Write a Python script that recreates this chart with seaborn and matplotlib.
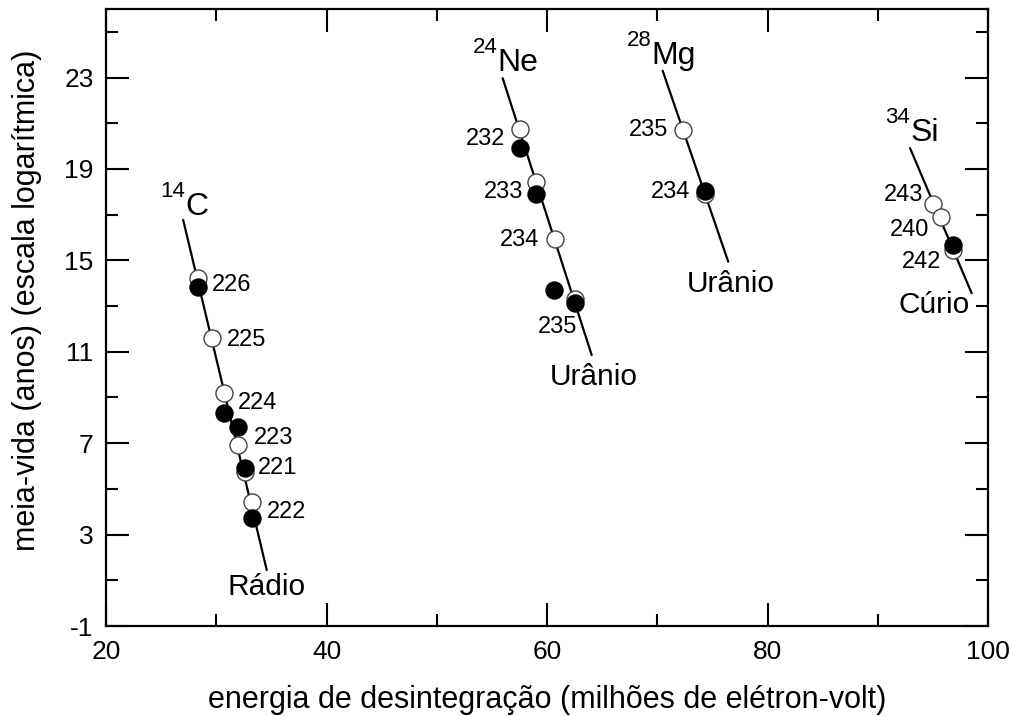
import matplotlib
matplotlib.use("Agg")
import matplotlib.pyplot as plt
import seaborn as sns
import pandas as pd
import numpy as np

# ---------------- data ----------------
# group, energy (MeV), log half-life, kind (open / filled), label
c_energy = [28.37, 28.37, 29.59, 30.73, 30.70, 31.95, 31.95, 32.60, 32.60, 33.20, 33.20]
c_life   = [14.22, 13.82, 11.59, 9.21, 8.31, 7.70, 6.92, 5.75, 5.90, 4.44, 3.71]
c_kind   = ["open", "filled", "open", "open", "filled", "filled", "open", "open", "filled", "open", "filled"]
c_label  = ["", "226", "225", "224", "", "", "223", "", "221", "222", ""]

ne_energy = [57.55, 57.55, 59.00, 59.00, 60.73, 60.66, 62.57, 62.57]
ne_life   = [20.74, 19.91, 18.44, 17.91, 15.92, 13.70, 13.30, 13.15]
ne_kind   = ["open", "filled", "open", "filled", "open", "filled", "open", "filled"]
ne_label  = ["232", "", "233", "", "234", "", "", "235"]

mg_energy = [72.36, 74.33, 74.33]
mg_life   = [20.71, 17.90, 18.05]
mg_kind   = ["open", "open", "filled"]
mg_label  = ["235", "", "234"]

si_energy = [94.98, 95.71, 96.86, 96.86]
si_life   = [17.47, 16.91, 15.46, 15.67]
si_kind   = ["open", "open", "open", "filled"]
si_label  = ["243", "240", "", "242"]

# guide lines (start, end) for each decay family
line_c_x,  line_c_y  = [27.00, 34.58], [16.77, 1.45]
line_ne_x, line_ne_y = [55.98, 64.05], [22.97, 10.86]
line_mg_x, line_mg_y = [70.49, 76.44], [23.30, 14.94]
line_si_x, line_si_y = [92.93, 98.52], [19.91, 13.56]

isotopes = [("14", "C"), ("24", "Ne"), ("28", "Mg"), ("34", "Si")]
parents  = ["Rádio", "Urânio", "Urânio", "Cúrio"]

x_ticks = [20, 40, 60, 80, 100]
y_ticks = [-1, 3, 7, 11, 15, 19, 23]

# ---------------- layout (pixel offsets) ----------------
label_offsets = {
    ("C", "226"): (14, 2, "left"), ("C", "225"): (15, -2, "left"),
    ("C", "224"): (14, -10, "left"), ("C", "223"): (16, 7, "left"),
    ("C", "221"): (13, 0, "left"), ("C", "222"): (15, -10, "left"),
    ("Ne", "232"): (-15, -10, "right"), ("Ne", "233"): (-13, -10, "right"),
    ("Ne", "234"): (-16, -1, "right"), ("Ne", "235"): (2, -24, "right"),
    ("Mg", "235"): (-15, 0, "right"), ("Mg", "234"): (-15, -1, "right"),
    ("Si", "243"): (-9, 9, "right"), ("Si", "240"): (-11, -13, "right"),
    ("Si", "242"): (-12, -17, "right"),
}
iso_offsets = [(2, 5), (-5, 7), (-11, 7), (0, 7)]
parent_offsets = [(0, -25), (2, -30), (2, -30), (-38, -20)]

# ---------------- build frames ----------------
groups = [("C", c_energy, c_life, c_kind, c_label),
          ("Ne", ne_energy, ne_life, ne_kind, ne_label),
          ("Mg", mg_energy, mg_life, mg_kind, mg_label),
          ("Si", si_energy, si_life, si_kind, si_label)]
rows = []
for g, xs, ys, ks, ls in groups:
    for x, y, k, l in zip(xs, ys, ks, ls):
        rows.append(dict(group=g, energy=x, life=y, kind=k, label=l))
df = pd.DataFrame(rows)

lines = [("C", line_c_x, line_c_y), ("Ne", line_ne_x, line_ne_y),
         ("Mg", line_mg_x, line_mg_y), ("Si", line_si_x, line_si_y)]
lrows = []
for g, xs, ys in lines:
    for x, y in zip(xs, ys):
        lrows.append(dict(group=g, energy=x, life=y))
ldf = pd.DataFrame(lrows)

# ---------------- plot ----------------
sns.set_style("ticks")
plt.rcParams["font.family"] = ["Liberation Sans", "DejaVu Sans"]
plt.rcParams["text.color"] = "black"
plt.rcParams["axes.labelcolor"] = "black"
plt.rcParams["xtick.color"] = "black"
plt.rcParams["ytick.color"] = "black"
plt.rcParams["axes.unicode_minus"] = False

fig = plt.figure(figsize=(10.11, 7.16), dpi=100)
ax = fig.add_axes([106 / 1011, 1 - 626 / 716, 882 / 1011, 617 / 716])

sns.lineplot(data=ldf, x="energy", y="life", units="group", estimator=None,
             sort=False, color="black", lw=1.6, ax=ax, zorder=1)

# draw points in data order so overlaps stack like the original
for i, r in df.iterrows():
    if r["kind"] == "open":
        sns.scatterplot(x=[r["energy"]], y=[r["life"]], s=150, color="white",
                        edgecolor="#444444", linewidth=1.0, ax=ax, zorder=2 + i * 0.01)
    else:
        sns.scatterplot(x=[r["energy"]], y=[r["life"]], s=150, color="black",
                        edgecolor="black", linewidth=1.0, ax=ax, zorder=2 + i * 0.01)

for _, r in df.iterrows():
    if r["label"]:
        dx, dy, ha = label_offsets[(r["group"], r["label"])]
        ax.annotate(r["label"], (r["energy"], r["life"]), xytext=(dx, dy),
                    textcoords="offset pixels", ha=ha, va="center",
                    fontsize=17, color="black", zorder=5)

for (g, xs, ys), (sup, main), (dx, dy), parent, (px, py) in zip(
        lines, isotopes, iso_offsets, parents, parent_offsets):
    ax.annotate(main, (xs[0], ys[0]), xytext=(dx, dy), textcoords="offset pixels",
                ha="left", va="baseline", fontsize=23, color="black", zorder=5)
    ax.annotate(sup, (xs[0], ys[0]), xytext=(dx, dy + 18), textcoords="offset pixels",
                ha="right", va="baseline", fontsize=16, color="black", zorder=5)
    ax.annotate(parent, (xs[1], ys[1]), xytext=(px, py), textcoords="offset pixels",
                ha="center", va="baseline", fontsize=21.5, color="black", zorder=5)

ax.set_xlim(20, 100)
ax.set_ylim(-1, 26)
ax.set_xticks(x_ticks)
ax.set_yticks(y_ticks)
ax.set_xticks([30, 50, 70, 90], minor=True)
ax.set_yticks([1, 5, 9, 13, 17, 21, 25], minor=True)
ax.tick_params(which="both", direction="in", top=True, right=True, width=1.5,
               color="black", labelsize=19, labelcolor="black")
ax.tick_params(which="major", length=16.5)
ax.tick_params(which="minor", length=8.5)
ax.tick_params(axis="x", which="major", pad=10)
ax.tick_params(axis="y", which="major", pad=9)
for sp in ax.spines.values():
    sp.set_visible(True)
    sp.set_linewidth(1.6)
    sp.set_color("black")

ax.set_xlabel("energia de desintegração (milhões de elétron-volt)", fontsize=22, color="black")
ax.set_ylabel("meia-vida (anos) (escala logarítmica)", fontsize=22, color="black")
ax.xaxis.set_label_coords(0.5, -(708 - 626) / 617)
ax.xaxis.label.set_va("baseline")
ax.yaxis.set_label_coords(-(106 - 42) / 882, (626 - 300) / 617)
ax.grid(False)

fig.savefig("out.png", dpi=100, facecolor="white")
